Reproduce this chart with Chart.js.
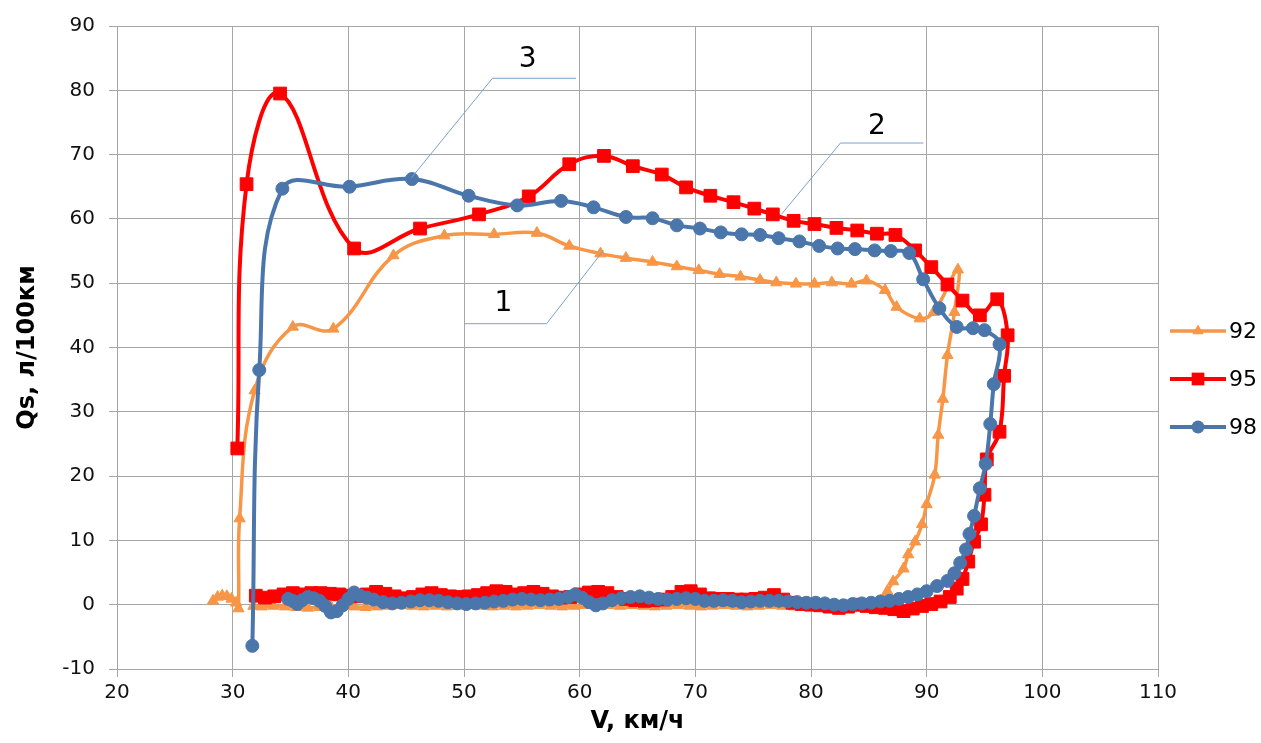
<!DOCTYPE html>
<html>
<head>
<meta charset="utf-8">
<script src="https://cdn.jsdelivr.net/npm/chart.js@4/dist/chart.umd.min.js"></script>
<style>
    html, body { margin: 0; padding: 0; background: #fff; }
    canvas { display: block; }
</style>
</head>
<body>
<canvas id="chart" width="1261" height="743"></canvas>
<script>
// Series 92 (orange triangles): left tail, top branch, right side, bottom branch back to the left
const v92 = [28.3, 28.7, 29.1, 29.5, 29.9, 30.3, 30.5,
    30.6, 31.9, 35.2, 38.7, 43.9, 48.3, 52.6, 56.3, 59.1, 61.8, 64.0, 66.3, 68.4, 70.3, 72.1, 73.9, 75.6, 77.0,
    78.7, 80.3, 81.8, 83.5, 84.8, 86.4, 87.4, 89.4, 90.6, 92.7,
    92.4, 91.8, 91.4, 91.0, 90.7, 90.0, 89.6, 89.0, 88.4, 88.0, 87.1, 86.6, 86.0,
    85.3, 84.5, 83.5, 82.5, 81.5, 80.5, 79.5, 78.5, 77.5, 76.5, 75.5, 74.5, 73.5, 72.5, 71.5, 70.5, 69.5,
    68.5, 67.5, 66.5, 65.5, 64.5, 63.5, 62.5, 61.5, 60.5, 59.5, 58.5, 57.5, 56.5, 55.5, 54.5, 53.5, 52.5,
    51.5, 50.5, 49.5, 48.5, 47.5, 46.5, 45.5, 44.5, 43.5, 42.5, 41.5, 40.5, 39.5, 38.5, 37.5, 36.5, 35.5,
    34.5, 33.5, 32.5, 31.8];
const q92 = [0.6, 1.2, 1.4, 1.3, 0.9, 0.3, -0.6,
    13.4, 33.3, 43.2, 42.9, 54.3, 57.4, 57.6, 57.8, 55.8, 54.6, 53.9, 53.3, 52.6, 52.0, 51.4, 51.0, 50.5, 50.1,
    49.9, 49.9, 50.1, 49.9, 50.4, 48.9, 46.3, 44.5, 45.5, 52.1,
    45.5, 38.8, 32.0, 26.4, 20.2, 15.6, 12.5, 9.8, 7.8, 5.6, 3.6, 2.1, 0.6,
    -0.2, -0.5, -0.6, -0.4, -0.3, -0.2, -0.3, -0.3, -0.2, -0.1, -0.2, -0.3, -0.2, -0.1, -0.2, -0.3, -0.2,
    -0.1, -0.2, -0.3, -0.2, -0.1, -0.2, -0.1, 0.0, -0.1, -0.2, -0.3, -0.2, -0.1, -0.2, -0.3, -0.2, -0.3,
    -0.2, -0.1, -0.2, -0.3, -0.2, -0.3, -0.2, -0.1, -0.2, -0.3, -0.4, -0.3, -0.2, -0.3, -0.4, -0.5, -0.4,
    -0.3, -0.2, -0.3, -0.2];

// Series 95 (red squares)
const v95 = [30.4, 31.2, 34.1, 40.5, 46.2, 51.3, 55.6, 59.1, 62.1, 64.6, 67.1, 69.2, 71.3, 73.3, 75.1, 76.7,
    78.5, 80.3, 82.2, 84.0, 85.7, 87.3, 89.0, 90.4, 91.8, 93.1, 94.6, 96.1, 97.0,
    96.7, 96.3, 95.2, 95.0, 94.7, 94.1, 93.6, 93.1, 92.6, 92.0,
    91.2, 90.4, 89.6, 88.8, 88.0, 87.2, 86.4, 85.6, 84.8, 84.0, 83.2, 82.4, 81.6, 80.8, 80.0, 79.2, 78.4,
    77.6, 76.8, 76.0, 75.2, 74.4, 73.6, 72.8, 72.0, 71.2, 70.4, 69.6, 68.8, 68.0, 67.2, 66.4, 65.6, 64.8,
    64.0, 63.2, 62.4, 61.6, 60.8, 60.0, 59.2, 58.4, 57.6, 56.8, 56.0, 55.2, 54.4, 53.6, 52.8, 52.0, 51.2,
    50.4, 49.6, 48.8, 48.0, 47.2, 46.4, 45.6, 44.8, 44.0, 43.2, 42.4, 41.6, 40.8, 40.0, 39.2, 38.4, 37.6,
    36.8, 36.0, 35.2, 34.4, 33.6, 32.8, 32.0];
const q95 = [24.3, 65.4, 79.5, 55.4, 58.5, 60.7, 63.5, 68.5, 69.8, 68.2, 66.9, 64.9, 63.6, 62.6, 61.6, 60.7,
    59.7, 59.2, 58.6, 58.2, 57.7, 57.5, 55.1, 52.5, 49.8, 47.3, 45.0, 47.5, 41.9,
    35.6, 26.9, 22.6, 17.1, 12.5, 9.8, 6.7, 4.0, 2.5, 1.2,
    0.5, 0.1, -0.2, -0.6, -1.0, -0.7, -0.5, -0.4, -0.2, 0.0, -0.3, -0.5, -0.3, -0.1, 0.0, 0.1, 0.3,
    0.8, 1.5, 1.1, 0.9, 0.8, 0.8, 0.9, 0.9, 1.0, 1.6, 2.1, 2.0, 1.2, 0.8, 0.7, 0.6, 0.7,
    0.9, 1.2, 1.8, 2.0, 1.9, 1.6, 1.2, 1.1, 1.3, 1.7, 2.0, 1.8, 1.6, 2.0, 2.1, 1.8, 1.5,
    1.3, 1.2, 1.3, 1.5, 1.8, 1.6, 1.2, 1.0, 1.3, 1.7, 2.0, 1.6, 1.3, 1.4, 1.6, 1.7, 1.8,
    1.8, 1.6, 1.8, 1.6, 1.3, 1.1, 1.4];

// Series 98 (blue circles)
const v98 = [31.7, 32.3, 34.3, 40.1, 45.5, 50.4, 54.6, 58.4, 61.2, 64.0, 66.3, 68.4, 70.4, 72.2, 74.0, 75.6,
    77.2, 79.0, 80.7, 82.3, 83.8, 85.5, 86.9, 88.5, 89.7, 91.1, 92.6, 94.0, 95.0, 96.3,
    95.8, 95.5, 95.1, 94.6, 94.1, 93.7, 93.4, 92.9, 92.4, 91.8, 90.9, 90.0, 89.2,
    88.4, 87.6, 86.8, 86.0, 85.2, 84.4, 83.6, 82.8, 82.0, 81.2, 80.4, 79.6, 78.8, 78.0, 77.2, 76.4, 75.6,
    74.8, 74.0, 73.2, 72.4, 71.6, 70.8, 70.0, 69.2, 68.4, 67.6, 66.8, 66.0, 65.2, 64.4, 63.6, 62.8, 62.0,
    61.4, 60.8, 60.2, 59.6, 59.0, 58.2, 57.4, 56.6, 55.8, 55.0, 54.2, 53.4, 52.6, 51.8, 51.0, 50.2, 49.4,
    48.6, 47.8, 47.0, 46.2, 45.4, 44.6, 43.8, 43.0, 42.2, 41.6, 41.0, 40.5, 40.0, 39.5, 39.0, 38.5, 38.0,
    37.5, 37.0, 36.5, 36.0, 35.6, 35.2, 34.8];
const q98 = [-6.4, 36.5, 64.7, 65.0, 66.2, 63.6, 62.1, 62.8, 61.8, 60.3, 60.1, 59.0, 58.5, 57.9, 57.6, 57.5,
    57.0, 56.5, 55.8, 55.4, 55.3, 55.1, 55.0, 54.7, 50.6, 46.1, 43.2, 43.0, 42.7, 40.5,
    34.3, 28.1, 21.9, 18.1, 13.8, 11.0, 8.6, 6.5, 4.9, 3.7, 2.9, 2.1, 1.6,
    1.2, 0.9, 0.6, 0.5, 0.3, 0.2, 0.1, -0.1, 0.0, 0.2, 0.3, 0.3, 0.4, 0.5, 0.6, 0.6, 0.6,
    0.5, 0.4, 0.6, 0.7, 0.6, 0.6, 0.9, 1.0, 0.9, 0.8, 0.9, 1.1, 1.3, 1.2, 1.0, 0.7, 0.2,
    -0.1, 0.4, 1.1, 1.6, 1.2, 0.9, 0.8, 0.7, 0.8, 0.9, 0.8, 0.6, 0.5, 0.3, 0.2, 0.1, 0.2,
    0.4, 0.6, 0.7, 0.7, 0.5, 0.3, 0.2, 0.4, 0.8, 1.1, 1.4, 1.9, 0.9, -0.1, -1.0, -1.2, -0.2,
    0.6, 1.0, 1.2, 0.7, 0.1, 0.6, 0.9];

// Axis ranges
const xMin = 20, xMax = 110, xStep = 10;
const yMin = -10, yMax = 90, yStep = 10;

// Callout labels "1", "2", "3" and their leader lines (in data units)
const calloutText = ['1', '2', '3'];
const calloutTextX = [53.4, 85.7, 55.5];
const calloutTextY = [46.8, 74.4, 84.7];
const calloutPathX = [[62.06, 57.14, 50.04], [77.45, 82.55, 89.72], [45.46, 52.46, 59.68]];
const calloutPathY = [[55.1, 43.7, 43.7], [60.73, 71.8, 71.8], [66.4, 81.87, 81.87]];

const ORANGE = '#F79646';
const RED = '#FF0000';
const BLUE = '#4A76AB';
const GRID = '#A6A6A6';
const FONT = '"DejaVu Sans", sans-serif';

const toPoints = (xs, ys) => xs.map((x, i) => ({ x: x, y: ys[i] }));

// draws the same marker shapes as Chart.js uses
const drawMarker = (ctx, style, cx, cy, r) => {
    ctx.beginPath();
    if (style === 'triangle') {
        ctx.moveTo(cx, cy - r);
        ctx.lineTo(cx + Math.sin(2 * Math.PI / 3) * r, cy + r / 2);
        ctx.lineTo(cx - Math.sin(2 * Math.PI / 3) * r, cy + r / 2);
        ctx.closePath();
    } else if (style === 'rect') {
        const s = Math.SQRT1_2 * r;
        ctx.rect(cx - s, cy - s, 2 * s, 2 * s);
    } else {
        ctx.arc(cx, cy, r, 0, Math.PI * 2);
    }
    ctx.fill();
};

const extras = {
    id: 'extras',
    afterDatasetsDraw(chart) {
        const { ctx, chartArea } = chart;
        const xs = chart.scales.x;
        const ys = chart.scales.y;
        ctx.save();

        // callouts
        ctx.strokeStyle = '#7BA0CF';
        ctx.lineWidth = 1;
        calloutText.forEach((t, i) => {
            ctx.beginPath();
            calloutPathX[i].forEach((vx, j) => {
                const px = xs.getPixelForValue(vx);
                const py = ys.getPixelForValue(calloutPathY[i][j]);
                if (j === 0) ctx.moveTo(px, py); else ctx.lineTo(px, py);
            });
            ctx.stroke();
            ctx.fillStyle = '#000';
            ctx.font = '28px ' + FONT;
            ctx.textAlign = 'center';
            ctx.textBaseline = 'middle';
            ctx.fillText(t, xs.getPixelForValue(calloutTextX[i]), ys.getPixelForValue(calloutTextY[i]));
        });

        // axis titles
        ctx.fillStyle = '#000';
        ctx.font = 'bold 24px ' + FONT;
        ctx.textAlign = 'center';
        ctx.textBaseline = 'middle';
        ctx.fillText('V, км/ч', (chartArea.left + chartArea.right) / 2, 722);
        ctx.save();
        ctx.translate(28, (chartArea.top + chartArea.bottom) / 2);
        ctx.rotate(-Math.PI / 2);
        ctx.fillText('Qs, л/100км', 0, 0);
        ctx.restore();

        // legend
        const rows = [331, 379, 427];
        chart.data.datasets.forEach((ds, i) => {
            const cy = rows[i];
            ctx.strokeStyle = ds.borderColor;
            ctx.lineWidth = ds.borderWidth;
            ctx.beginPath();
            ctx.moveTo(1170, cy);
            ctx.lineTo(1226, cy);
            ctx.stroke();
            ctx.fillStyle = ds.borderColor;
            drawMarker(ctx, ds.pointStyle, 1198, cy, ds.pointRadius);
            ctx.fillStyle = '#000';
            ctx.font = '22px ' + FONT;
            ctx.textAlign = 'left';
            ctx.fillText(ds.label, 1229, cy + 1);
        });
        ctx.restore();
    }
};

const series = (label, xs, ys, color, style, radius, width, order) => ({
    label: label,
    data: toPoints(xs, ys),
    showLine: true,
    tension: 0.4,
    borderColor: color,
    backgroundColor: color,
    borderWidth: width,
    pointStyle: style,
    pointRadius: radius,
    pointBorderWidth: 1,
    pointBorderColor: color,
    pointBackgroundColor: color,
    order: order
});

new Chart(document.getElementById('chart'), {
    type: 'scatter',
    data: {
        datasets: [
            series('92', v92, q92, ORANGE, 'triangle', 6.5, 3.5, 3),
            series('95', v95, q95, RED, 'rect', 9, 4, 2),
            series('98', v98, q98, BLUE, 'circle', 6.5, 4, 1)
        ]
    },
    options: {
        responsive: false,
        animation: false,
        devicePixelRatio: 1,
        layout: { padding: { left: 0, right: 103, top: 22, bottom: 0 } },
        plugins: {
            legend: { display: false },
            title: { display: false },
            tooltip: { enabled: false }
        },
        scales: {
            x: {
                type: 'linear',
                min: xMin,
                max: xMax,
                ticks: { stepSize: xStep, color: '#111', font: { family: FONT, size: 20 }, padding: 4, maxRotation: 0 },
                grid: { color: GRID, lineWidth: 1, tickLength: 8 },
                border: { color: GRID, width: 1 },
                afterFit: (s) => { s.height = 74; }
            },
            y: {
                type: 'linear',
                min: yMin,
                max: yMax,
                ticks: { stepSize: yStep, color: '#111', font: { family: FONT, size: 20 }, padding: 14 },
                grid: { color: GRID, lineWidth: 1, tickLength: 8 },
                border: { color: GRID, width: 1 },
                afterFit: (s) => { s.width = 117; }
            }
        }
    },
    plugins: [extras]
});
</script>
</body>
</html>
